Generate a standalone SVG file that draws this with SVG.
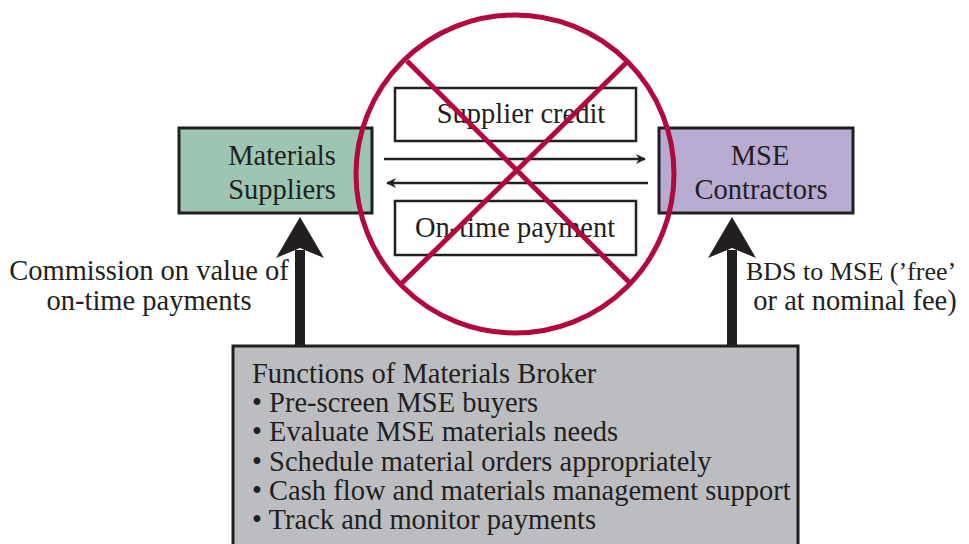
<svg xmlns="http://www.w3.org/2000/svg" width="969" height="544" viewBox="0 0 969 544">
<defs>
<style>
text{font-family:"Liberation Serif","Times New Roman",serif;fill:#231f20;}
.t{font-size:28.5px;}
.box{stroke:#231f20;stroke-width:3;}
.thin{stroke:#231f20;stroke-width:2.5;fill:none;}
.ban{stroke:#b3083d;stroke-width:5;fill:none;}
</style>
<marker id="ah" markerWidth="10" markerHeight="10" refX="9" refY="5" orient="auto" markerUnits="userSpaceOnUse" viewBox="0 0 10 10">
<path d="M0,0 L10,5 L0,10 L3,5 Z" fill="#231f20"/>
</marker>
</defs>
<g id="suppliers">
<rect class="box" x="179" y="128" width="193" height="85" fill="#9dc6b2"/>
<text class="t" x="282" y="165" text-anchor="middle">Materials</text>
<text class="t" x="282" y="199" text-anchor="middle">Suppliers</text>
</g>
<g id="contractors">
<rect class="box" x="659" y="128" width="194" height="85" fill="#b8abd2"/>
<text class="t" x="760" y="165" text-anchor="middle">MSE</text>
<text class="t" x="761" y="199" text-anchor="middle">Contractors</text>
</g>
<g id="credit">
<rect class="thin" x="395" y="88" width="241" height="53" fill="#fff"/>
<text class="t" x="521" y="123" text-anchor="middle">Supplier credit</text>
</g>
<g id="payment">
<rect class="thin" x="395" y="201" width="241" height="54" fill="#fff"/>
<text class="t" x="515" y="237" text-anchor="middle">On-time payment</text>
</g>
<g id="broker">
<rect class="box" x="233" y="346" width="565" height="210" fill="#bcbdc0"/>
<text class="t" x="252" y="383">Functions of Materials Broker</text>
<text class="t" x="252" y="412">• Pre-screen MSE buyers</text>
<text class="t" x="252" y="441">• Evaluate MSE materials needs</text>
<text class="t" x="252" y="471">• Schedule material orders appropriately</text>
<text class="t" x="252" y="500">• Cash flow and materials management support</text>
<text class="t" x="252" y="529">• Track and monitor payments</text>
</g>
<g id="connectors">
<line class="thin" x1="384" y1="159" x2="645" y2="159" marker-end="url(#ah)"/>
<line class="thin" x1="648" y1="183" x2="387" y2="183" marker-end="url(#ah)"/>
<rect x="295" y="250" width="10" height="96" fill="#231f20"/>
<path d="M300,217 L324,258 L300,248 L276,258 Z" fill="#231f20"/>
<rect x="727" y="250" width="10" height="96" fill="#231f20"/>
<path d="M732,217 L756,258 L732,248 L708,258 Z" fill="#231f20"/>
</g>
<g id="labels">
<text class="t" x="149" y="280" text-anchor="middle">Commission on value of</text>
<text class="t" x="149" y="310" text-anchor="middle">on-time payments</text>
<text x="746" y="280" style="font-size:26px">BDS to MSE (’free’</text>
<text class="t" x="855" y="310" text-anchor="middle">or at nominal fee)</text>
</g>
<g id="prohibition">
<circle class="ban" cx="515" cy="174" r="159"/>
<line class="ban" x1="407" y1="61" x2="630" y2="283"/>
<line class="ban" x1="627" y1="62" x2="402" y2="283"/>
</g>
</svg>
